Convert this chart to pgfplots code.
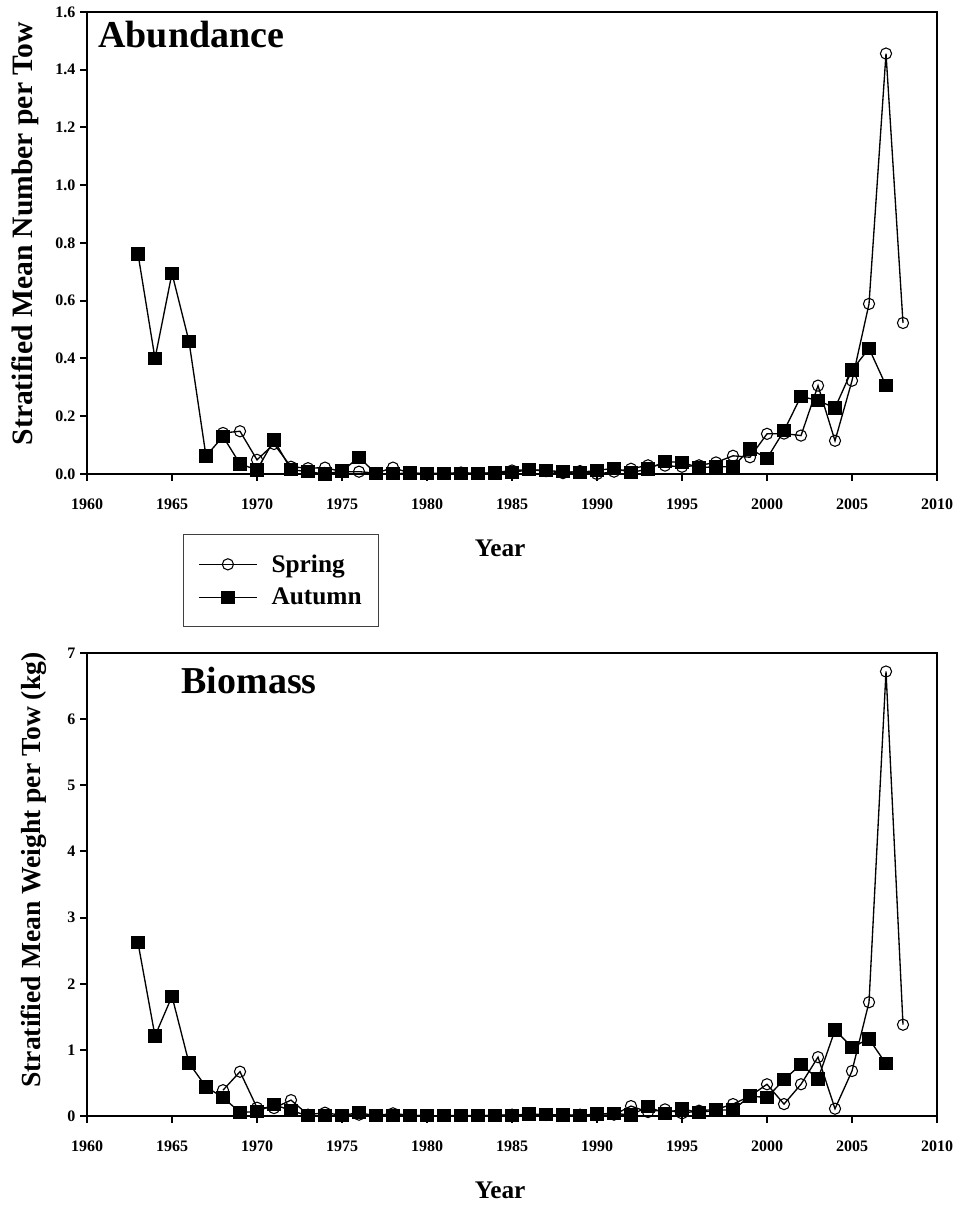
\documentclass[border=0pt]{standalone}
\usepackage{fontspec}
\setmainfont{Liberation Serif}
\usepackage{pgfplots}
\pgfplotsset{compat=1.18}

\pgfplotstableread{
year val
1963 0.762
1964 0.400
1965 0.695
1966 0.459
1967 0.062
1968 0.130
1969 0.035
1970 0.014
1971 0.118
1972 0.015
1973 0.008
1974 0.000
1975 0.010
1976 0.058
1977 0.001
1978 0.001
1979 0.003
1980 0.001
1981 0.001
1982 0.001
1983 0.001
1984 0.004
1985 0.005
1986 0.015
1987 0.012
1988 0.008
1989 0.006
1990 0.012
1991 0.020
1992 0.005
1993 0.017
1994 0.043
1995 0.040
1996 0.022
1997 0.025
1998 0.025
1999 0.087
2000 0.054
2001 0.150
2002 0.269
2003 0.254
2004 0.229
2005 0.360
2006 0.435
2007 0.306
}\abAutumn

\pgfplotstableread{
year val
1968 0.142
1969 0.148
1970 0.049
1971 0.104
1972 0.025
1973 0.020
1974 0.022
1975 0.008
1976 0.008
1977 0.003
1978 0.022
1979 0.003
1980 0.002
1981 0.002
1982 0.005
1983 0.002
1984 0.005
1985 0.012
1986 0.015
1987 0.010
1988 0.003
1989 0.010
1990 0.000
1991 0.008
1992 0.018
1993 0.030
1994 0.029
1995 0.025
1996 0.030
1997 0.040
1998 0.063
1999 0.058
2000 0.139
2001 0.140
2002 0.133
2003 0.306
2004 0.115
2005 0.323
2006 0.589
2007 1.456
2008 0.523
}\abSpring

\pgfplotstableread{
year val
1963 2.62
1964 1.21
1965 1.81
1966 0.80
1967 0.44
1968 0.28
1969 0.055
1970 0.065
1971 0.176
1972 0.08
1973 0.005
1974 0.003
1975 0.01
1976 0.05
1977 0.003
1978 0.003
1979 0.01
1980 0.005
1981 0.005
1982 0.005
1983 0.005
1984 0.01
1985 0.01
1986 0.03
1987 0.02
1988 0.015
1989 0.01
1990 0.03
1991 0.04
1992 0.015
1993 0.14
1994 0.04
1995 0.11
1996 0.05
1997 0.09
1998 0.09
1999 0.30
2000 0.28
2001 0.55
2002 0.78
2003 0.56
2004 1.30
2005 1.04
2006 1.165
2007 0.79
}\bmAutumn

\pgfplotstableread{
year val
1968 0.39
1969 0.67
1970 0.125
1971 0.12
1972 0.24
1973 0.02
1974 0.05
1975 0.01
1976 0.02
1977 0.005
1978 0.04
1979 0.01
1980 0.005
1981 0.005
1982 0.01
1983 0.005
1984 0.01
1985 0.02
1986 0.02
1987 0.015
1988 0.005
1989 0.02
1990 0.01
1991 0.02
1992 0.15
1993 0.06
1994 0.10
1995 0.04
1996 0.08
1997 0.10
1998 0.18
1999 0.30
2000 0.48
2001 0.18
2002 0.48
2003 0.89
2004 0.11
2005 0.68
2006 1.72
2007 6.72
2008 1.38
}\bmSpring

\pgfplotsset{
  myaxis/.style={
    scale only axis,
    width=637.5pt,
    xmin=1960, xmax=2010,
    xtick={1960,1965,1970,1975,1980,1985,1990,1995,2000,2005,2010},
    tick align=outside,
    xtick pos=bottom, ytick pos=left,
    major tick length=5.25pt,
    minor tick num=0,
    axis line style={line width=1.5pt},
    every tick/.append style={line width=1.5pt, black},
    ticklabel style={font=\bfseries\fontsize{12}{14}\selectfont},
    /pgf/number format/assume math mode=true,
    x tick label style={/pgf/number format/1000 sep={}, yshift=-10pt},
    xlabel={Year},
    xlabel style={font=\bfseries\fontsize{19}{22}\selectfont, anchor=center, at={(axis description cs:0.486,-0.16)}},
    clip=false,
  },
  springstyle/.style={black, line width=1pt, mark=o, mark size=4.2pt, mark options={solid, line width=0.8pt}},
  autumnstyle/.style={black, line width=1pt, mark=square*, mark size=4.5pt, mark options={solid}},
}

\begin{document}
\begin{tikzpicture}
\path[use as bounding box] (0,0) rectangle (718.5pt,903.75pt);

% Top: Abundance
\begin{axis}[myaxis,
  at={(65.25pt,548.25pt)}, anchor=south west,
  height=346.5pt,
  ymin=0, ymax=1.6,
  ytick={0,0.2,0.4,0.6,0.8,1.0,1.2,1.4,1.6},
  yticklabel style={/pgf/number format/.cd, fixed, fixed zerofill, precision=1},
  ylabel={Stratified Mean Number per Tow},
  ylabel style={font=\bfseries\fontsize{22.2}{25}\selectfont, anchor=center, at={(axis description cs:-0.073,0.52)}},
  legend style={at={(axis description cs:0.113,-0.13)}, anchor=north west,
    draw=black!75, line width=0.75pt,
    font=\bfseries\fontsize{19}{22}\selectfont,
    inner xsep=11pt, inner ysep=13pt, row sep=6.5pt},
  legend cell align=left,
  legend image code/.code={\path[draw=none,fill=none] (0pt,0pt) -- (52.5pt,0pt);\draw[mark repeat=2,mark phase=2,#1] plot coordinates {(0pt,0pt) (21.75pt,0pt) (43.5pt,0pt)};},
]
\addplot[springstyle] table[x=year,y=val] {\abSpring};
\addlegendentry{Spring}
\addplot[autumnstyle] table[x=year,y=val] {\abAutumn};
\addlegendentry{Autumn}
\node[anchor=west, inner sep=0pt, font=\bfseries\fontsize{28.5}{30}\selectfont] at (rel axis cs:0.013,0.952) {Abundance};
\end{axis}

% Bottom: Biomass
\begin{axis}[myaxis,
  at={(65.25pt,66.75pt)}, anchor=south west,
  height=347.25pt,
  ymin=0, ymax=7,
  ytick={0,1,2,3,4,5,6,7},
  ylabel={Stratified Mean Weight per Tow (kg)},
  ylabel style={font=\bfseries\fontsize{20.7}{24}\selectfont, anchor=center, at={(axis description cs:-0.063,0.531)}},
]
\addplot[springstyle] table[x=year,y=val] {\bmSpring};
\addplot[autumnstyle] table[x=year,y=val] {\bmAutumn};
\node[anchor=west, inner sep=0pt, font=\bfseries\fontsize{28.5}{30}\selectfont] at (rel axis cs:0.111,0.9406) {Biomass};
\end{axis}
\end{tikzpicture}
\end{document}
